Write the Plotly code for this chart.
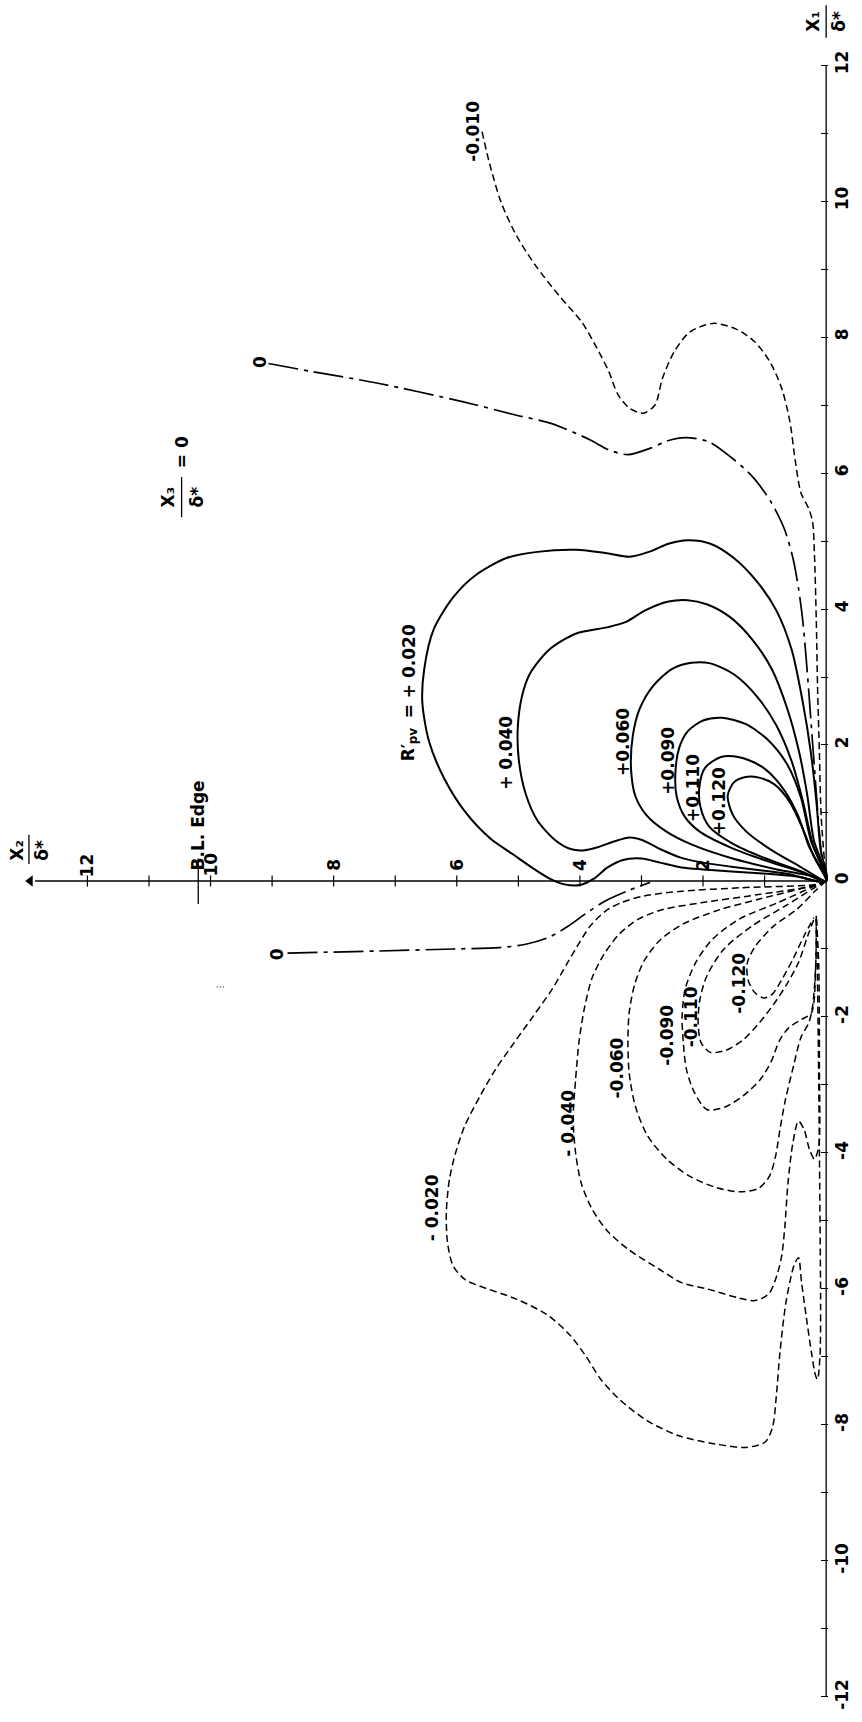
import plotly.graph_objects as go

FONT = "DejaVu Sans"
INK = "black"

# ---------------------------------------------------------------
# Iso-lines of R'pv in the plane x3/δ* = 0, as (x2/δ*, x1/δ*) pairs
# ---------------------------------------------------------------
pos_020 = [(0.0, 0.0), (0.5, 0.07), (1.03, 0.11), (1.54, 0.14), (2.0, 0.17), (2.35, 0.2),
           (2.7, 0.27), (3.0, 0.33), (3.3, 0.31), (3.55, 0.2), (3.78, 0.03), (4.0, -0.06),
           (4.25, -0.05), (4.5, 0.04), (4.75, 0.18), (5.1, 0.4), (5.45, 0.62), (5.85, 1.0),
           (6.2, 1.5), (6.45, 2.05), (6.56, 2.63), (6.53, 3.11), (6.38, 3.69), (6.06, 4.17),
           (5.69, 4.5), (5.19, 4.75), (4.69, 4.84), (4.06, 4.87), (3.56, 4.82), (3.19, 4.77),
           (2.88, 4.84), (2.56, 4.96), (2.25, 5.01), (1.88, 4.96), (1.5, 4.75), (1.13, 4.41),
           (0.81, 3.98), (0.56, 3.4), (0.38, 2.63), (0.25, 1.9), (0.16, 1.18), (0.09, 0.46),
           (0.0, 0.0)]
pos_040 = [(0.0, 0.0), (0.6, 0.1), (1.0, 0.15), (1.54, 0.21), (2.0, 0.27), (2.35, 0.34),
           (2.7, 0.47), (2.98, 0.6), (3.19, 0.64), (3.45, 0.58), (3.7, 0.5), (3.95, 0.45),
           (4.15, 0.47), (4.4, 0.6), (4.69, 0.89), (4.88, 1.28), (4.99, 1.76), (5.01, 2.24),
           (4.94, 2.72), (4.81, 3.05), (4.5, 3.4), (4.06, 3.64), (3.56, 3.73), (3.25, 3.81),
           (2.94, 3.98), (2.56, 4.11), (2.25, 4.13), (1.94, 4.07), (1.56, 3.88), (1.19, 3.54),
           (0.88, 3.11), (0.63, 2.53), (0.44, 1.9), (0.31, 1.28), (0.2, 0.6), (0.0, 0.0)]
pos_060 = [(0.0, 0.0), (0.22, 0.07), (0.8, 0.17), (1.52, 0.33), (2.17, 0.53), (2.6, 0.73),
           (2.92, 0.97), (3.1, 1.25), (3.17, 1.66), (3.14, 2.14), (3.03, 2.53), (2.81, 2.87),
           (2.5, 3.12), (2.19, 3.21), (1.88, 3.2), (1.5, 3.04), (1.13, 2.72), (0.81, 2.29),
           (0.56, 1.76), (0.38, 1.18), (0.22, 0.55), (0.0, 0.0)]
pos_090 = [(0.0, 0.0), (0.4, 0.13), (0.98, 0.3), (1.52, 0.48), (2.06, 0.73), (2.3, 0.95),
           (2.43, 1.25), (2.45, 1.57), (2.39, 1.95), (2.25, 2.2), (2.0, 2.36), (1.69, 2.4),
           (1.31, 2.31), (0.94, 2.07), (0.63, 1.71), (0.41, 1.23), (0.25, 0.6), (0.0, 0.0)]
pos_110 = [(0.0, 0.0), (0.4, 0.14), (0.98, 0.33), (1.52, 0.55), (1.9, 0.8), (2.04, 1.08),
           (2.06, 1.38), (1.97, 1.66), (1.72, 1.82), (1.41, 1.82), (1.06, 1.69), (0.75, 1.42),
           (0.47, 0.99), (0.28, 0.51), (0.0, 0.0)]
pos_120 = [(0.0, 0.0), (0.44, 0.22), (0.88, 0.45), (1.3, 0.73), (1.52, 0.98), (1.6, 1.25),
           (1.5, 1.45), (1.31, 1.53), (1.09, 1.52), (0.84, 1.42), (0.59, 1.16), (0.38, 0.77),
           (0.2, 0.36), (0.0, 0.0)]

zero_upper = [(9.06, 7.61), (8.34, 7.49), (7.28, 7.32), (5.91, 7.05), (5.03, 6.85), (4.47, 6.73),
              (3.84, 6.49), (3.53, 6.34), (3.22, 6.27), (2.84, 6.37), (2.59, 6.47), (2.28, 6.52),
              (1.91, 6.46), (1.53, 6.22), (1.2, 5.95), (0.9, 5.58), (0.68, 5.18), (0.54, 4.75),
              (0.45, 4.31), (0.38, 3.83), (0.31, 3.11), (0.25, 2.39), (0.19, 1.66), (0.13, 0.94),
              (0.07, 0.35), (0.0, 0.0)]
zero_lower = [(8.75, -1.06), (7.29, -1.03), (6.06, -1.0), (5.31, -0.98), (4.88, -0.93),
              (4.51, -0.83), (4.2, -0.67), (3.89, -0.47), (3.58, -0.29), (3.21, -0.14),
              (2.86, -0.02)]

neg_010 = [(5.59, 11.02), (5.47, 10.56), (5.28, 9.98), (5.03, 9.49), (4.72, 9.05), (4.34, 8.61),
           (3.97, 8.22), (3.72, 7.83), (3.53, 7.49), (3.38, 7.15), (3.19, 6.95), (2.97, 6.88),
           (2.78, 7.0), (2.66, 7.39), (2.47, 7.78), (2.22, 8.07), (1.84, 8.2), (1.47, 8.12),
           (1.16, 7.93), (0.91, 7.63), (0.72, 7.24), (0.59, 6.76), (0.5, 6.17), (0.41, 5.71),
           (0.28, 5.47), (0.22, 5.28), (0.19, 4.8), (0.16, 3.83), (0.14, 2.87), (0.11, 1.9),
           (0.08, 0.94), (0.0, 0.0)]
neg_020 = [(0.0, 0.0), (0.17, -0.05), (1.41, -0.1), (2.34, -0.15), (2.96, -0.22), (3.33, -0.32),
           (3.58, -0.44), (3.83, -0.66), (4.01, -0.91), (4.2, -1.2), (4.45, -1.59), (4.76, -1.99),
           (5.07, -2.38), (5.37, -2.77), (5.62, -3.16), (5.87, -3.6), (6.02, -4.0), (6.12, -4.39),
           (6.17, -4.88), (6.15, -5.32), (6.06, -5.66), (5.87, -5.86), (5.65, -5.95),
           (5.03, -6.15), (4.53, -6.38), (4.16, -6.68), (3.91, -6.98), (3.66, -7.33),
           (3.35, -7.63), (2.92, -7.93), (2.42, -8.15), (1.8, -8.28), (1.3, -8.33), (0.99, -8.25),
           (0.87, -8.03), (0.81, -7.58), (0.75, -6.93), (0.65, -6.18), (0.52, -5.65),
           (0.45, -5.54), (0.4, -5.9), (0.32, -6.43), (0.24, -6.93), (0.17, -7.28), (0.14, -7.33),
           (0.1, -6.98), (0.09, -6.28), (0.1, -5.0), (0.12, -3.0), (0.14, -1.5), (0.16, -0.51)]
neg_040 = [(0.0, 0.0), (0.2, -0.07), (1.1, -0.2), (2.03, -0.32), (2.65, -0.42), (3.05, -0.56),
           (3.36, -0.78), (3.61, -1.08), (3.8, -1.42), (3.92, -1.84), (4.01, -2.33), (4.07, -2.92),
           (4.11, -3.5), (4.07, -4.0), (3.98, -4.44), (3.8, -4.83), (3.55, -5.15), (3.21, -5.42),
           (2.71, -5.71), (2.34, -5.91), (1.93, -6.0), (1.43, -6.13), (1.15, -6.17), (0.93, -6.07),
           (0.8, -5.8), (0.72, -5.5), (0.67, -5.07), (0.62, -4.44), (0.54, -3.85), (0.45, -3.53),
           (0.36, -3.65), (0.27, -3.95), (0.19, -4.09), (0.12, -3.9), (0.11, -2.72),
           (0.12, -1.25), (0.16, -0.51)]
neg_060 = [(0.0, 0.0), (0.2, -0.06), (1.1, -0.27), (1.72, -0.42), (2.34, -0.64), (2.71, -0.88),
           (2.96, -1.18), (3.11, -1.52), (3.2, -1.94), (3.22, -2.38), (3.2, -2.82), (3.1, -3.31),
           (2.9, -3.75), (2.59, -4.09), (2.22, -4.34), (1.78, -4.51), (1.41, -4.57), (1.1, -4.52),
           (0.92, -4.34), (0.82, -4.04), (0.75, -3.65), (0.66, -3.21), (0.53, -2.72),
           (0.41, -2.3), (0.28, -2.08), (0.22, -1.84), (0.17, -1.25), (0.16, -0.51)]
neg_090 = [(0.0, 0.0), (0.2, -0.08), (0.79, -0.32), (1.41, -0.56), (1.85, -0.86), (2.12, -1.2),
           (2.29, -1.59), (2.34, -1.99), (2.32, -2.38), (2.27, -2.77), (2.14, -3.11),
           (1.94, -3.36), (1.66, -3.33), (1.35, -3.16), (1.07, -2.92), (0.89, -2.65),
           (0.76, -2.35), (0.61, -2.16), (0.41, -2.04), (0.24, -1.94), (0.17, -1.25),
           (0.16, -0.51)]
neg_110 = [(0.0, 0.0), (0.19, -0.1), (0.67, -0.37), (1.2, -0.66), (1.66, -1.0), (1.94, -1.4),
           (2.05, -1.74), (2.08, -2.08), (2.03, -2.38), (1.88, -2.52), (1.63, -2.49),
           (1.34, -2.33), (1.09, -2.09), (0.85, -1.81), (0.64, -1.52), (0.45, -1.2),
           (0.3, -0.81), (0.19, -0.54)]
neg_120 = [(0.0, 0.0), (0.17, -0.14), (0.48, -0.42), (0.85, -0.66), (1.15, -0.96), (1.28, -1.2),
           (1.27, -1.45), (1.16, -1.64), (1.01, -1.72), (0.87, -1.66), (0.72, -1.45),
           (0.54, -1.15), (0.36, -0.81), (0.2, -0.54)]

iso_lines = [
    (pos_020, "solid"), (pos_040, "solid"), (pos_060, "solid"),
    (pos_090, "solid"), (pos_110, "solid"), (pos_120, "solid"),
    (zero_upper, "dashdot"), (zero_lower, "dashdot"),
    (neg_010, "dash"), (neg_020, "dash"), (neg_040, "dash"), (neg_060, "dash"),
    (neg_090, "dash"), (neg_110, "dash"), (neg_120, "dash"),
]

# level labels: text, x2, x1
level_labels = [
    ("= + 0.020", 6.78, 3.08),
    ("+ 0.040", 5.19, 1.88),
    ("+0.060", 3.31, 2.05),
    ("+0.090", 2.56, 1.76),
    ("+0.110", 2.16, 1.37),
    ("+0.120", 1.75, 1.18),
    ("0", 9.2, 7.63),
    ("-0.010", 5.75, 11.02),
    ("0", 8.93, -1.07),
    ("- 0.020", 6.4, -4.81),
    ("- 0.040", 4.2, -3.56),
    ("-0.060", 3.39, -2.75),
    ("-0.090", 2.58, -2.27),
    ("-0.110", 2.19, -2.0),
    ("-0.120", 1.42, -1.5),
]
# symbol R'pv in front of the outermost positive level
rpv_symbol = ("R′", 6.78, 1.89)
rpv_index = ("pv", 6.78, 2.14)

# axes
x1_major = list(range(-12, 13, 2))
x1_minor = list(range(-11, 12, 2))
x1_ticktext = [str(v) for v in x1_major]
x1_span = [-12, 12]
x2_ticks = list(range(1, 13))
x2_labelled = [2, 4, 6, 8, 10, 12]
x2_span = [0, 12.85]
x2_arrow_tip = [12.93]
bl_edge_x2 = 10.2

STYLE = {
    "solid": dict(color=INK, width=2.0),
    "dash": dict(color=INK, width=1.5, dash="7px,4px"),
    "dashdot": dict(color=INK, width=1.7, dash="30px,6px,4px,6px"),
}

fig = go.Figure()

for pts, style in iso_lines:
    fig.add_trace(go.Scatter(
        x=[p[0] for p in pts], y=[p[1] for p in pts], mode="lines",
        line=dict(**STYLE[style], shape="spline", smoothing=0.8),
        hoverinfo="skip", showlegend=False))

# x1 axis line and x2 axis line with cross ticks and arrow head
fig.add_trace(go.Scatter(x=[0, 0], y=x1_span, mode="lines",
                         line=dict(color=INK, width=1.3), hoverinfo="skip"))
fig.add_trace(go.Scatter(x=x2_span, y=[0, 0], mode="lines",
                         line=dict(color=INK, width=1.3), hoverinfo="skip"))
fig.add_trace(go.Scatter(x=x2_ticks, y=[0] * len(x2_ticks), mode="markers",
                         marker=dict(symbol="line-ns", size=8,
                                     line=dict(color=INK, width=1.2)),
                         hoverinfo="skip"))
fig.add_trace(go.Scatter(x=x2_arrow_tip, y=[0], mode="markers",
                         marker=dict(symbol="triangle-left", size=10, color=INK),
                         hoverinfo="skip"))
# boundary-layer edge marker
fig.add_trace(go.Scatter(x=[bl_edge_x2, bl_edge_x2], y=[-0.34, 0.33], mode="lines",
                         line=dict(color=INK, width=1.3), hoverinfo="skip"))

ann = []
txt = dict(family=FONT, size=17, color=INK, weight="bold")
small = dict(family=FONT, size=12, color=INK, weight="bold")
for text, x2, x1 in level_labels:
    ann.append(dict(x=x2, y=x1, xref="x", yref="y", text=text, showarrow=False,
                    textangle=-90, font=txt, xanchor="center", yanchor="middle"))
ann.append(dict(x=rpv_symbol[1], y=rpv_symbol[2], xref="x", yref="y", text=rpv_symbol[0],
                showarrow=False, textangle=-90, font=txt))
ann.append(dict(x=rpv_index[1], y=rpv_index[2], xref="x", yref="y", text=rpv_index[0],
                showarrow=False, textangle=-90, font=small, xshift=5))

for v in x2_labelled:
    ann.append(dict(x=v, y=0, xref="x", yref="y", text=str(v), showarrow=False,
                    textangle=-90, font=txt, yshift=16))

ann.append(dict(x=bl_edge_x2, y=0.82, xref="x", yref="y", text="B.L. Edge",
                showarrow=False, textangle=-90, font=txt))

# axis titles written as fractions: numerator, x2, x1, bar from, bar to, shifts
fractions = [
    ("X₁", 0.0, 12.64, 12.40, 12.88, -13, 13),
    ("X₂", 12.95, 0.46, 0.25, 0.68, -12, 13),
    ("X₃", 10.47, 5.65, 5.35, 5.94, -14, 15),
]
shapes = []
for num, x2, x1, lo, hi, sh_num, sh_den in fractions:
    ann.append(dict(x=x2, y=x1, xref="x", yref="y", text=num, showarrow=False,
                    textangle=-90, font=txt, xshift=sh_num))
    ann.append(dict(x=x2, y=x1, xref="x", yref="y", text="δ*", showarrow=False,
                    textangle=-90, font=txt, xshift=sh_den))
    shapes.append(dict(type="line", xref="x", yref="y", x0=x2, x1=x2, y0=lo, y1=hi,
                       line=dict(color=INK, width=1.3)))
ann.append(dict(x=10.47, y=6.3, xref="x", yref="y", text="= 0", showarrow=False,
                textangle=-90, font=txt))
ann.append(dict(x=9.84, y=-1.56, xref="x", yref="y", text="⋮", showarrow=False,
                textangle=-90, font=dict(family=FONT, size=9, color=INK)))

fig.update_layout(
    width=862, height=1722, autosize=False,
    margin=dict(l=0, r=34, t=0, b=0),
    paper_bgcolor="white", plot_bgcolor="white",
    showlegend=False,
    annotations=ann, shapes=shapes,
    xaxis=dict(range=[13.42, -0.03], visible=False),
    yaxis=dict(range=[-12.368, 12.956], side="right",
               tickmode="array", tickvals=x1_major, ticktext=x1_ticktext,
               ticks="inside", ticklen=7, tickwidth=1.2, tickcolor=INK,
               minor=dict(tickmode="array", tickvals=x1_minor, ticks="inside",
                          ticklen=7, tickwidth=1.2, tickcolor=INK),
               tickangle=-90, tickfont=txt, ticklabelstandoff=2,
               showgrid=False, zeroline=False, showline=False),
)

fig.write_html("out.html")
